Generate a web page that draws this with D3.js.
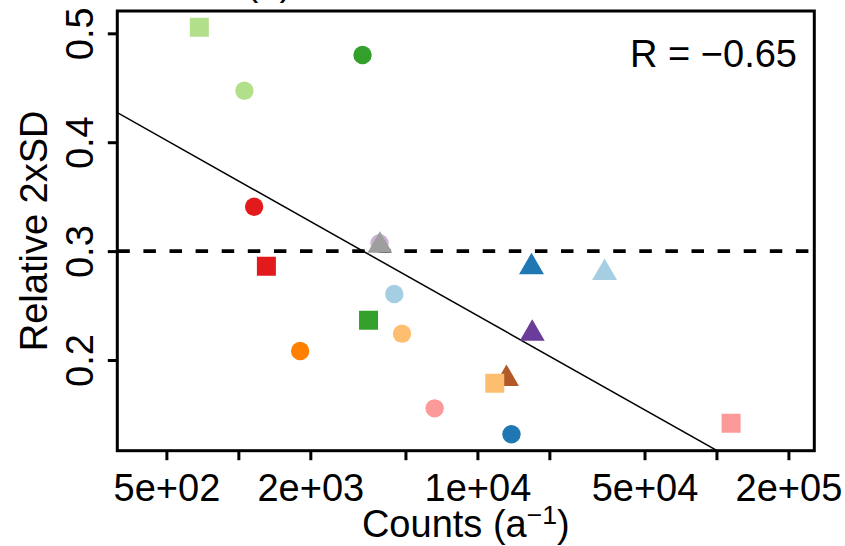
<!DOCTYPE html>
<html>
<head>
<meta charset="utf-8">
<script src="https://cdn.jsdelivr.net/npm/d3@7"></script>
<style>
  html, body { margin: 0; padding: 0; background: #fff; }
  svg { display: block; }
  text { font-family: "Liberation Sans", Arial, Helvetica, sans-serif; fill: #000; }
</style>
</head>
<body>
<svg id="chart" width="845" height="546"></svg>
<script>
// ---- data ----
const counts = [686.7, 1060, 3307, 1164, 1310, 3896, 3910, 4491, 3504, 4836, 1813,
                16838, 34040, 16955, 13229, 11816, 6624, 13884, 115110];
const sd2    = [0.5055, 0.4473, 0.4801, 0.3408, 0.2860, 0.3072, 0.3050, 0.2606, 0.2365, 0.2242, 0.2083,
                0.2853, 0.2801, 0.2243, 0.1827, 0.1786, 0.1556, 0.1318, 0.1419];
const groups = ["G3", "G3", "G4", "G6", "G6", "G9", "G13", "G1", "G4", "G7", "G8",
                "G2", "G1", "G10", "G12", "G7", "G5", "G2", "G5"];
const shapes = ["square", "circle", "circle", "circle", "square", "circle", "triangle", "circle", "square", "circle", "circle",
                "triangle", "triangle", "triangle", "triangle", "square", "circle", "circle", "square"];
const groupNames  = ["G1","G2","G3","G4","G5","G6","G7","G8","G9","G10","G11","G12","G13"];
const groupColors = ["#A6CEE3","#1F78B4","#B2DF8A","#33A02C","#FB9A99","#E31A1C","#FDBF6F","#FF7F00","#CAB2D6","#6A3D9A","#FFFF99","#B15928","#9E9E9E"];
const xTickValues = [500, 1000, 2000, 5000, 10000, 20000, 50000, 100000, 200000];
const xTickLabels = ["5e+02", "", "2e+03", "", "1e+04", "", "5e+04", "", "2e+05"];
const yTickValues = [0.2, 0.3, 0.4, 0.5];
const yTickLabels = ["0.2", "0.3", "0.4", "0.5"];
const refLevel = 0.3;
const xDomain = [311.6, 256600];
const yDomain = [0.1167, 0.5205];

// ---- layout ----
const svg = d3.select("#chart");
const L = 117.3, R = 814.3, T = 11, B = 450.7;
const FS = 38;

const x = d3.scaleLog().domain(xDomain).range([L, R]);
const y = d3.scaleLinear().domain(yDomain).range([B, T]);
const color = d3.scaleOrdinal().domain(groupNames).range(groupColors);
const shapeScale = d3.scaleOrdinal().domain(["circle","square","triangle"])
  .range([d3.symbolCircle, d3.symbolSquare, d3.symbolTriangle]);
const sizeScale = d3.scaleOrdinal().domain(["circle","square","triangle"])
  .range([Math.PI * 9.2 * 9.2, 19 * 19, 269]);

svg.append("defs").append("clipPath").attr("id", "plotclip")
  .append("rect").attr("x", L).attr("y", T).attr("width", R - L).attr("height", B - T);

// title (clipped at the top in the reference)
svg.append("text").attr("x", 269).attr("y", -5).attr("text-anchor", "middle")
  .style("font-size", FS + "px").text("(b)");

const plot = svg.append("g").attr("clip-path", "url(#plotclip)");

// reference line at 0.3
plot.append("line")
  .attr("x1", x(xDomain[0])).attr("x2", x(xDomain[1]))
  .attr("y1", y(refLevel)).attr("y2", y(refLevel))
  .attr("stroke", "#000").attr("stroke-width", 3.6)
  .attr("stroke-dasharray", "12.5,13.6");

// least-squares fit of sd2 on log10(counts)
const lx = counts.map(v => Math.log10(v));
const mx = d3.mean(lx), my = d3.mean(sd2);
let sxy = 0, sxx = 0, syy = 0;
lx.forEach((v, i) => { sxy += (v - mx) * (sd2[i] - my); sxx += (v - mx) ** 2; syy += (sd2[i] - my) ** 2; });
const slope = sxy / sxx, intercept = my - slope * mx;
const rVal = sxy / Math.sqrt(sxx * syy);
const fitX = [xDomain[0], xDomain[1]];
plot.append("path")
  .attr("d", d3.line().x(d => x(d)).y(d => y(intercept + slope * Math.log10(d)))(fitX))
  .attr("fill", "none").attr("stroke", "#000").attr("stroke-width", 1.5);

// points
plot.selectAll("path.pt").data(counts.map((c, i) => ({c, s: sd2[i], g: groups[i], sh: shapes[i]})))
  .enter().append("path").attr("class", "pt")
  .attr("transform", d => `translate(${x(d.c)},${y(d.s)})`)
  .attr("d", d => d3.symbol().type(shapeScale(d.sh)).size(sizeScale(d.sh))())
  .attr("fill", d => color(d.g));

// axes
const xAxis = svg.append("g").attr("transform", `translate(0,${B})`)
  .call(d3.axisBottom(x).tickValues(xTickValues).tickSize(9.5)
    .tickFormat((d, i) => xTickLabels[i]));
xAxis.select(".domain").remove();
xAxis.selectAll(".tick line").attr("stroke", "#000").attr("stroke-width", 3);
xAxis.selectAll(".tick text").attr("y", 50).attr("dy", 0)
  .style("font-size", FS + "px").attr("font-family", null).attr("fill", "#000");

const yAxis = svg.append("g").attr("transform", `translate(${L},0)`)
  .call(d3.axisLeft(y).tickValues(yTickValues).tickSize(9.5)
    .tickFormat((d, i) => yTickLabels[i]));
yAxis.select(".domain").remove();
yAxis.selectAll(".tick line").attr("stroke", "#000").attr("stroke-width", 3);
yAxis.selectAll(".tick text")
  .attr("x", null).attr("dy", 0)
  .attr("transform", "translate(-24.3,0) rotate(-90)")
  .attr("text-anchor", "middle")
  .style("font-size", FS + "px").attr("font-family", null).attr("fill", "#000");

// box
svg.append("rect").attr("x", L).attr("y", T).attr("width", R - L).attr("height", B - T)
  .attr("fill", "none").attr("stroke", "#000").attr("stroke-width", 3);

// axis titles
const xt = svg.append("text").attr("x", (L + R) / 2).attr("y", 536.7)
  .attr("text-anchor", "middle").style("font-size", FS + "px");
xt.append("tspan").text("Counts (a");
xt.append("tspan").attr("dy", -13).style("font-size", (FS * 0.7) + "px").text("\u22121");
xt.append("tspan").attr("dy", 13).text(")");

svg.append("text")
  .attr("transform", `translate(47,${(T + B) / 2}) rotate(-90)`)
  .attr("text-anchor", "middle").style("font-size", FS + "px")
  .text("Relative 2xSD");

// correlation label
svg.append("text").attr("x", 797).attr("y", 66.7).attr("text-anchor", "end")
  .style("font-size", FS + "px")
  .text("R = " + d3.format(".2f")(rVal).replace("-", "\u2212"));
</script>
</body>
</html>
